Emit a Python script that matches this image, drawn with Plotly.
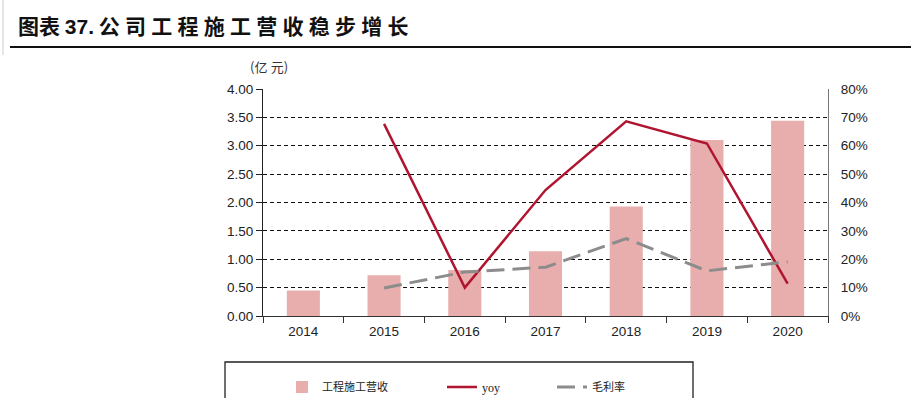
import plotly.graph_objects as go

years = ["2014", "2015", "2016", "2017", "2018", "2019", "2020"]
revenue = [0.45, 0.72, 0.81, 1.14, 1.93, 3.10, 3.44]          # 亿元
yoy = [None, 67.7, 10.0, 44.4, 68.6, 60.8, 11.4]               # %
margin_rate = [None, 9.9, 15.5, 17.2, 27.3, 15.9, 19.1]       # %
left_ticks = [0, 0.5, 1, 1.5, 2, 2.5, 3, 3.5, 4]
right_ticks = [0, 10, 20, 30, 40, 50, 60, 70, 80]
right_labels = ["0%", "10%", "20%", "30%", "40%", "50%", "60%", "70%", "80%"]

W, H = 911, 398
L, R, T, B = 263, 828, 89, 316
PW, PH = R - L, B - T

def px(x):
    return (x - L) / PW

def py(y):
    return (B - y) / PH

CJK = "Noto Sans CJK SC"
NUM = "Liberation Sans"

fig = go.Figure()
fig.add_trace(go.Bar(
    x=years, y=revenue, name="工程施工营收",
    marker=dict(color="#E8AEAD", line=dict(width=0)),
    legend="legend",
))
fig.add_trace(go.Scatter(
    x=years, y=yoy, name="yoy", mode="lines", yaxis="y2",
    line=dict(color="#B01530", width=2.5),
    legend="legend2",
))
fig.add_trace(go.Scatter(
    x=years, y=margin_rate, name="毛利率", mode="lines", yaxis="y2",
    line=dict(color="#8C8C8C", width=3, dash="18px,8px"),
    legend="legend3",
))

legend_common = dict(
    orientation="h", yanchor="middle", xanchor="left",
    bgcolor="rgba(0,0,0,0)", borderwidth=0, itemwidth=30,
)
fig.update_layout(
    width=W, height=H,
    margin=dict(l=L, r=W - R, t=T, b=H - B, autoexpand=False, pad=0),
    plot_bgcolor="white", paper_bgcolor="white",
    bargap=0.59,
    font=dict(family=NUM, size=13, color="#222"),
    xaxis=dict(
        type="category", showgrid=False, showline=True, linecolor="#333",
        linewidth=1.2, ticks="outside", tickson="boundaries", ticklen=6,
        tickcolor="#333", tickfont=dict(family=NUM, size=13.5, color="#222"),
        ticklabelstandoff=3, zeroline=False,
    ),
    yaxis=dict(
        range=[0, 4], tickvals=left_ticks, tickformat=".2f",
        showline=True, linecolor="#222", linewidth=1.2,
        ticks="outside", ticklen=6, tickcolor="#222",
        showgrid=True, gridcolor="#111", griddash="4px,3px", gridwidth=1,
        zeroline=False, tickfont=dict(family=NUM, size=13.5, color="#222"),
    ),
    yaxis2=dict(
        range=[0, 80], tickvals=right_ticks, ticktext=right_labels,
        overlaying="y", side="right", showgrid=False,
        showline=True, linecolor="#777", linewidth=1.2, ticks="",
        ticklabelstandoff=9, zeroline=False,
        tickfont=dict(family=NUM, size=13.5, color="#222"),
    ),
    legend=dict(x=px(282), y=py(387), font=dict(family=CJK, size=11, color="#222"), **legend_common),
    legend2=dict(x=px(442), y=py(387), font=dict(family="Liberation Serif", size=12, color="#222"), **legend_common),
    legend3=dict(x=px(552), y=py(387), font=dict(family=CJK, size=11, color="#222"), **legend_common),
    showlegend=True,
)

sp = "\u2005"
title_rest = sp.join(list("公司工程施工营收稳步增长"))
fig.add_annotation(
    xref="paper", yref="paper", x=px(16), y=py(25), xanchor="left", yanchor="middle",
    text="<b>图表 </b><b><span style='font-family:Liberation Sans'>37.</span></b><b> " + title_rest + "</b>",
    showarrow=False, font=dict(family=CJK, size=21, color="#111"),
)
fig.add_annotation(
    xref="paper", yref="paper", x=px(269), y=py(66), xanchor="center", yanchor="middle",
    text="(亿\u2005元)", showarrow=False, font=dict(family=CJK, size=13, color="#333"),
)

# title rule
fig.add_shape(type="line", xref="paper", yref="paper", x0=px(10), x1=px(911), y0=py(47), y1=py(47),
              line=dict(color="#111", width=2))
# faint page edge
fig.add_shape(type="line", xref="paper", yref="paper", x0=px(3), x1=px(3), y0=py(0), y1=py(55),
              line=dict(color="#ccc", width=1))
# legend frame
fig.add_shape(type="rect", xref="paper", yref="paper", x0=px(225), x1=px(693), y0=py(362), y1=py(420),
              line=dict(color="#222", width=1.3), fillcolor="rgba(0,0,0,0)", layer="above")

fig.write_html("out.html", config={"displayModeBar": False},
               post_script="document.body.style.margin='0';document.body.style.padding='0';")
